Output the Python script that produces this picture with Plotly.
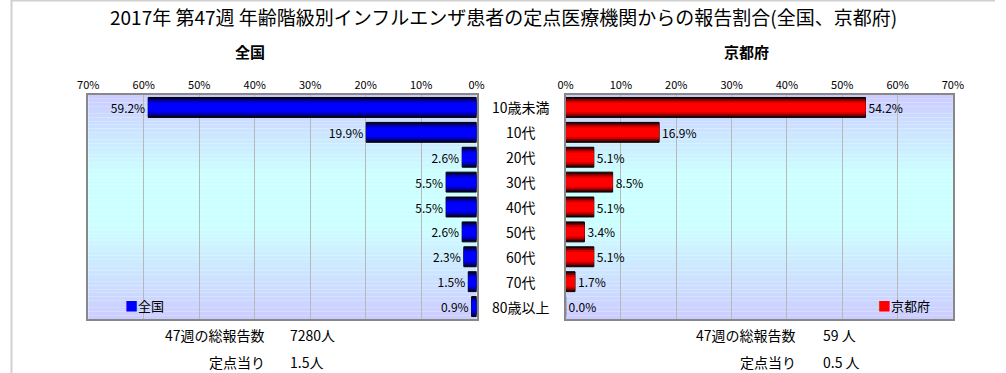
import numpy as np
import plotly.graph_objects as go

# ---- data ----
categories = ["10歳未満", "10代", "20代", "30代", "40代", "50代", "60代", "70代", "80歳以上"]
japan_pct = [59.2, 19.9, 2.6, 5.5, 5.5, 2.6, 2.3, 1.5, 0.9]
kyoto_pct = [54.2, 16.9, 5.1, 8.5, 5.1, 3.4, 5.1, 1.7, 0.0]
tick_vals = [0, 10, 20, 30, 40, 50, 60, 70]
tick_text = [f"{v}%" for v in tick_vals]

title_text = "2017年 第47週 年齢階級別インフルエンザ患者の定点医療機関からの報告割合(全国、京都府)"
left_name = "全国"
right_name = "京都府"
left_total_label = "47週の総報告数"
left_total_value = "7280人"
left_per_label = "定点当り"
left_per_value = "1.5人"
right_total_value = "59 人"
right_per_value = "0.5 人"

W, H = 1006, 373
FONT = "Noto Sans CJK JP"


def px(x):
    return x / W


def py(y):
    return 1 - y / H


fig = go.Figure()

# layered bars to mimic cylinder shading
blue_layers = [("#000028", 0.80), ("#000080", 0.68), ("#0000c8", 0.54), ("#0000ff", 0.38)]
red_layers = [("#280000", 0.80), ("#800000", 0.68), ("#d00000", 0.54), ("#ff0000", 0.38)]

for i, (col, w) in enumerate(blue_layers):
    fig.add_trace(go.Bar(
        x=japan_pct, y=categories, orientation="h", width=w,
        marker=dict(color=col, line=dict(color="black", width=1 if i == 0 else 0)),
        text=[f"{v:.1f}%" for v in japan_pct] if i == 0 else None,
        textposition="outside" if i == 0 else "none",
        textfont=dict(size=12, color="black", family=FONT),
        cliponaxis=False, showlegend=False,
        xaxis="x", yaxis="y", name=left_name,
    ))

for i, (col, w) in enumerate(red_layers):
    fig.add_trace(go.Bar(
        x=kyoto_pct, y=categories, orientation="h", width=w,
        marker=dict(color=col, line=dict(color="black", width=1 if i == 0 else 0)),
        text=[f"{v:.1f}%" for v in kyoto_pct] if i == 0 else None,
        textposition="outside" if i == 0 else "none",
        textfont=dict(size=12, color="black", family=FONT),
        cliponaxis=False, showlegend=False,
        xaxis="x2", yaxis="y2", name=right_name,
    ))

# gradient background strips (styling)
shapes = []
N = 60
for k in range(N):
    t = (k + 0.5) / N
    f = float(np.interp(t, [0, 0.35, 0.58, 1.0], [0, 1, 1, 0]))
    g = int(round(204 + 51 * f))
    col = f"rgb(204,{g},255)"
    for xr, yr in (("x domain", "y domain"), ("x2 domain", "y2 domain")):
        shapes.append(dict(type="rect", xref=xr, yref=yr, x0=0, x1=1,
                           y0=1 - k / N, y1=1 - (k + 1) / N,
                           fillcolor=col, line=dict(width=0), layer="below"))
# outer frame lines (left & top)
shapes.append(dict(type="line", xref="paper", yref="paper", x0=0.0005, x1=0.0005, y0=0, y1=1,
                   line=dict(color="#d0d0d0", width=2)))
shapes.append(dict(type="line", xref="paper", yref="paper", x0=0, x1=1, y0=0.9985, y1=0.9985,
                   line=dict(color="#d0d0d0", width=2)))


def ann(text, x, y, size, xanchor="center", yref="paper", yval=None):
    return dict(text=text, x=x, y=(py(y) if yval is None else yval), xref="paper", yref=yref,
                xanchor=xanchor, yanchor="middle", showarrow=False,
                font=dict(size=size, color="black", family=FONT))


annotations = [
    ann(title_text, px(503), 16, 19),
    ann(f"<b>{left_name}</b>", px(244), 52, 15),
    ann(f"<b>{right_name}</b>", px(752), 52, 15),
]
for c in categories:
    annotations.append(ann(c, px(521), 0, 14, yref="y", yval=c))
# legend-like labels
annotations.append(ann(f"<span style='color:#0000ff'>■</span>{left_name}", px(114), 305, 13, xanchor="left"))
annotations.append(ann(f"<span style='color:#ff0000'>■</span>{right_name}", px(884), 305, 13, xanchor="left"))
# bottom summary texts
for xl, xv, y, lab, val in [
    (262, 283, 335, left_total_label, left_total_value),
    (262, 283, 362, left_per_label, left_per_value),
    (805, 828, 335, left_total_label, right_total_value),
    (805, 828, 362, left_per_label, right_per_value),
]:
    annotations.append(ann(lab, px(xl), y, 14, xanchor="right"))
    annotations.append(ann(val, px(xv), y, 14, xanchor="left"))

axis_common = dict(
    tickvals=tick_vals, ticktext=tick_text, side="top", showgrid=True, gridcolor="#b8b8b8",
    gridwidth=1, zeroline=False, showline=True, mirror=True, linecolor="#888888", linewidth=2,
    ticks="", tickfont=dict(size=11, color="black", family=FONT), fixedrange=True,
)
yaxis_common = dict(type="category", autorange="reversed", showticklabels=False, showgrid=False,
                    zeroline=False, showline=True, mirror=True, linecolor="#888888", linewidth=2,
                    ticks="", domain=[py(319), py(95)], fixedrange=True)

fig.update_layout(
    width=W, height=H,
    margin=dict(l=0, r=0, t=0, b=0),
    paper_bgcolor="white", plot_bgcolor="rgba(0,0,0,0)",
    barmode="overlay",
    font=dict(family=FONT, color="black"),
    xaxis=dict(domain=[px(79), px(476)], range=[70, 0], anchor="y", **axis_common),
    xaxis2=dict(domain=[px(567), px(963)], range=[0, 70], anchor="y2", **axis_common),
    yaxis=dict(anchor="x", **yaxis_common),
    yaxis2=dict(anchor="x2", **yaxis_common),
    shapes=shapes, annotations=annotations, showlegend=False,
)

fig.write_html("out.html", config={"displayModeBar": False},
               post_script="document.body.style.margin='0';document.body.style.overflow='hidden';")
